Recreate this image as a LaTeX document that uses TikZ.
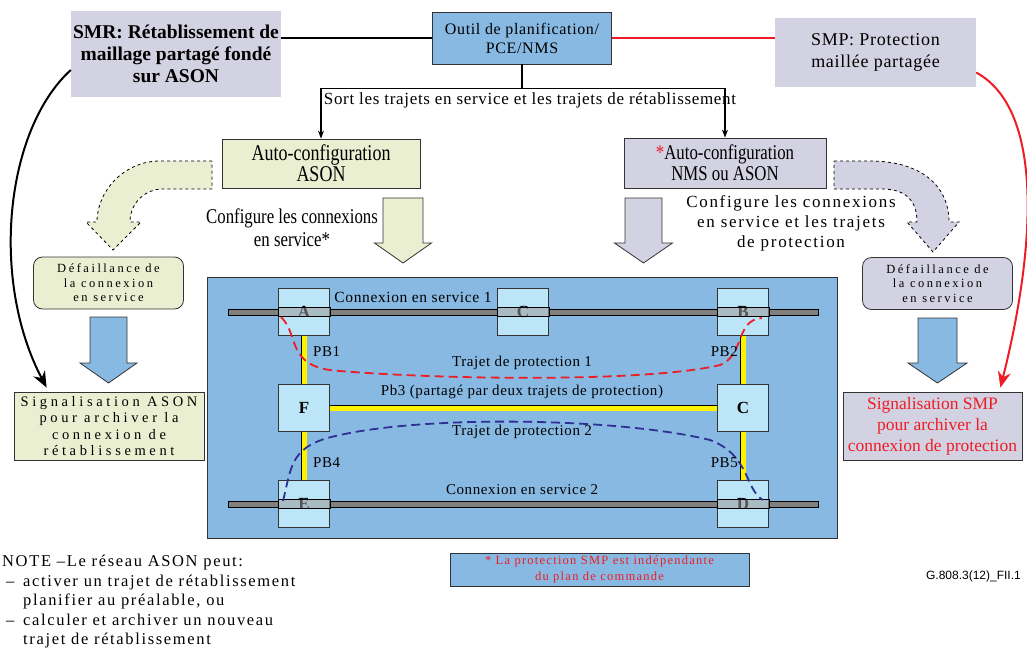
\documentclass[tikz,border=0pt]{standalone}
\usepackage{fontspec}
\setmainfont{Liberation Serif}
\setsansfont{Liberation Sans}
\newfontfamily\narrowfont[FakeStretch=0.8]{Liberation Serif}
\newfontfamily\trackA[LetterSpace=4]{Liberation Serif}
\newfontfamily\trackB[LetterSpace=10]{Liberation Serif}
\newfontfamily\trackC[LetterSpace=20]{Liberation Serif}
\newfontfamily\trackD[LetterSpace=25]{Liberation Serif}
\usepackage{tikz}
\usetikzlibrary{arrows.meta}
\tikzset{>=Stealth}

\definecolor{netblue}{HTML}{88B9E3}
\definecolor{nodeblue}{HTML}{BDE5F8}
\definecolor{lav}{HTML}{D3D2E3}
\definecolor{pale}{HTML}{E9EFD0}
\definecolor{linkyel}{HTML}{FFF200}
\definecolor{pathred}{HTML}{EE1C25}
\definecolor{pathblue}{HTML}{2E3192}

% block arrow pointing down: style, x, top, shaft half, head half, head y, tip y
\newcommand{\blockdown}[7]{%
  \draw[#1] ({#2-#4},#3) -- ({#2+#4},#3) -- ({#2+#4},#6) -- ({#2+#5},#6)
    -- (#2,#7) -- ({#2-#5},#6) -- ({#2-#4},#6) -- cycle;}

\tikzset{
  lavbox/.style={fill=lav, inner sep=2pt, align=center},
  boxline/.style={draw=black!80, thick},
  palebox/.style={fill=pale, boxline, align=center, inner sep=2pt},
  failbox/.style={rounded corners=9pt, boxline, align=center, inner sep=2pt,
    minimum width=150pt, minimum height=52pt, font=\trackC\fontsize{12.5}{14.5}\selectfont},
  netnode/.style={fill=nodeblue, draw=black!80, minimum width=51pt, minimum height=47pt,
    inner sep=0pt, font=\bfseries\fontsize{17}{17}\selectfont},
  bar/.style={fill=black!50, draw=black, thin},
  barlens/.style={fill=black!40, fill opacity=0.55, draw=black, thin},
  link/.style={draw=black, double=linkyel, double distance=5pt, thin},
  protred/.style={pathred, dash pattern=on 9pt off 5pt, line width=1.8pt},
  protblue/.style={pathblue, dash pattern=on 9pt off 5pt, line width=1.8pt},
  lbl/.style={font=\trackA\fontsize{15}{17}\selectfont, inner sep=0pt},
  bigtip/.style={-{Stealth[length=16pt,width=13pt]}, line width=2pt},
  dashedarrow/.style={dashed, thick, draw=black}
}

\begin{document}
\begin{tikzpicture}[x=1pt,y=-1pt]
\useasboundingbox (0,0) rectangle (1027,648);

% top row
\node[lavbox, minimum width=210pt, minimum height=86pt,
  font=\bfseries\fontsize{19.5}{22}\selectfont] (smr) at (176,54)
  {SMR: Rétablissement de\\maillage partagé fondé\\sur ASON};
\node[fill=netblue, boxline, minimum width=179pt, minimum height=52pt, align=center,
  inner sep=1pt, font=\trackA\fontsize{16}{19}\selectfont] (outil) at (522,38)
  {Outil de planification/\\PCE/NMS};
\node[lavbox, minimum width=201pt, minimum height=69pt,
  font=\trackA\fontsize{18}{22}\selectfont] (smp) at (875.5,52.5)
  {SMP: Protection\\maillée partagée};

\draw[line width=2.5pt] (outil.west) -- (outil.west -| smr.east);
\draw[pathred, line width=2pt] (outil.east) -- (outil.east -| smp.west);

% auto-configuration boxes
\node[palebox, minimum width=198pt, minimum height=49pt,
  font=\narrowfont\fontsize{22.5}{21}\selectfont] (ason) at (321,163.5)
  {Auto-configuration\\ASON};
\node[fill=lav, boxline, align=center, inner sep=2pt, minimum width=202pt, minimum height=50pt,
  font=\narrowfont\fontsize{21}{21}\selectfont] (nms) at (725,163)
  {{\color{pathred}*}Auto-configuration\\NMS ou ASON};

\draw[->, line width=1.1pt] (outil.south) -- ++(0,24) -| (ason.north);
\draw[->, line width=1.1pt] (outil.south) -- ++(0,24) -| (nms.north);
\node[font=\trackA\fontsize{17}{18}\selectfont, inner sep=0pt] (sortlbl) at (530,100)
  {Sort les trajets en service et les trajets de rétablissement};

% curved dashed arrows
\draw[dashedarrow, fill=pale] (212,161) -- (160,161) .. controls (125,161) and (97,190) .. (97,222)
  -- (86,222) -- (113,250) -- (141,222) -- (130,222)
  .. controls (130,203) and (145,189) .. (163,189) -- (212,189) -- cycle;
\draw[dashedarrow, fill=lav] (834,161) -- (870,161) .. controls (920,161) and (949,185) .. (949,222)
  -- (959,222) -- (933,252) -- (907,222) -- (917,222)
  .. controls (917,200) and (905,189) .. (882,189) -- (834,189) -- cycle;

% straight block arrows
\blockdown{fill=pale, boxline}{403}{198}{20}{28.5}{243}{263}
\blockdown{fill=lav, boxline}{643.5}{198}{18.5}{29}{243}{263}
\blockdown{fill=netblue, boxline}{108.5}{317}{18.5}{28.5}{363}{383}
\blockdown{fill=netblue, boxline}{937.5}{318}{19.5}{29.5}{363}{383}

\node[font=\narrowfont\fontsize{21}{23}\selectfont, align=center, inner sep=0pt] (cfgL) at (292,228)
  {Configure les connexions\\en service*};
\node[font=\trackB\fontsize{17}{20}\selectfont, align=center, inner sep=0pt] (cfgR) at (791,223)
  {Configure les connexions\\en service et les trajets\\de protection};

% failure and signalling boxes
\node[failbox, fill=pale] (failL) at (108.5,283) {Défaillance de\\la connexion\\en service};
\node[failbox, fill=lav] (failR) at (937.5,283.5) {Défaillance de\\la connexion\\en service};
\node[palebox, minimum width=190pt, minimum height=68pt,
  font=\trackD\fontsize{14.5}{16.5}\selectfont] (sigL) at (109,426)
  {Signalisation ASON\\pour archiver la\\connexion de\\rétablissement};
\node[fill=lav, boxline, align=center, inner sep=1pt, minimum width=179pt, minimum height=68pt,
  text=pathred, font=\fontsize{17.5}{21}\selectfont] (sigR) at (932.5,426)
  {Signalisation SMP\\pour archiver la\\connexion de protection};

\draw[bigtip] ([yshift=-16pt]smr.west) .. controls (5,130) and (-10,280) .. ([xshift=33pt,yshift=4pt]sigL.north west);
\draw[bigtip, pathred] ([yshift=-20pt]smp.east) .. controls (1045,110) and (1035,250) .. ([xshift=-22pt,yshift=4pt]sigR.north east);

% network
\node[fill=netblue, boxline, minimum width=630pt, minimum height=261pt] (net) at (522,407.5) {};
\draw[bar] (228,309) rectangle (818,315);
\draw[bar] (228,501) rectangle (818,507);

\node[netnode] (A) at (304,312) {A};
\node[netnode] (C1) at (523,312) {C};
\node[netnode] (B) at (743,312) {B};
\node[netnode] (F) at (304,408) {F};
\node[netnode] (C2) at (743,408) {C};
\node[netnode] (E) at (304,504) {E};
\node[netnode] (D) at (743,504) {D};

\draw[link] (A.south) -- (F.north);
\draw[link] (F.south) -- (E.north);
\draw[link] (B.south) -- (C2.north);
\draw[link] (C2.south) -- (D.north);
\draw[link] (F.east) -- (C2.west);

\foreach \n in {A,C1,B,E,D}
  \draw[barlens] ([yshift=4.5pt]\n.west) rectangle ([yshift=-4.5pt]\n.east);

\draw[protred] (281,317) .. controls (300,335) and (285,368) .. (340,371)
  .. controls (450,380) and (650,382) .. (720,365)
  .. controls (745,355) and (735,320) .. (762,318);
\draw[protblue] (283,501) .. controls (292,465) and (290,445) .. (340,435)
  .. controls (430,415) and (620,418) .. (710,440)
  .. controls (750,455) and (745,490) .. (763,500);

\node[lbl, font=\trackA\fontsize{15.5}{17}\selectfont] (svc1) at (413,297) {Connexion en service 1};
\node[lbl, anchor=west] (pb1) at (313,352) {PB1};
\node[lbl, anchor=east] (pb2) at (738,352) {PB2};
\node[lbl] (tp1) at (522,363) {Trajet de protection 1};
\node[lbl] (pb3) at (522,392) {Pb3 (partagé par deux trajets de protection)};
\node[lbl] (tp2) at (522,432) {Trajet de protection 2};
\node[lbl, anchor=west] (pb4) at (313,463) {PB4};
\node[lbl, anchor=east] (pb5) at (738,463) {PB5};
\node[lbl] (svc2) at (522,490) {Connexion en service 2};

% bottom notes
\node[anchor=north west, align=left, inner sep=0pt,
  font=\trackB\fontsize{16.5}{19.5}\selectfont] (note) at (2,555)
  {NOTE –Le réseau ASON peut:\\
   \hspace*{4pt}\makebox[17pt][l]{–}activer un trajet de rétablissement\\
   \hspace*{21pt}planifier au préalable, ou\\
   \hspace*{4pt}\makebox[17pt][l]{–}calculer et archiver un nouveau\\
   \hspace*{21pt}trajet de rétablissement};
\node[fill=netblue, boxline, minimum width=299pt, minimum height=33pt, inner sep=1pt,
  align=center, text=pathred, font=\trackB\fontsize{12.5}{16}\selectfont] (smpnote) at (599.5,569.5)
  {* La protection SMP est indépendante\\du plan de commande};
\node[anchor=east, inner sep=0pt, font=\sffamily\fontsize{12}{14}\selectfont] (figid) at (1021,576)
  {G.808.3(12)\_FII.1};
\end{tikzpicture}
\end{document}
